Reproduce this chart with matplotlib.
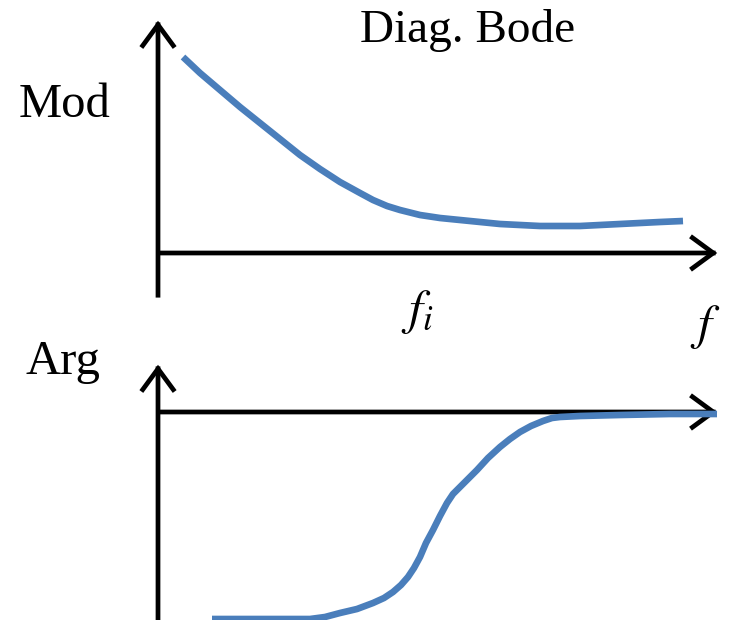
import matplotlib.pyplot as plt
from matplotlib.patches import FancyArrowPatch

# diagram drawn in picture units (x to the right, y downward)
mod_f = [183, 200, 220, 240, 260, 280, 300, 320, 340, 360, 373, 387, 400, 420,
         440, 460, 480, 500, 520, 540, 560, 580, 600, 620, 640, 660, 683]
mod_v = [57, 73, 90, 107, 123, 139, 155, 169, 182, 193, 200, 206, 210, 215,
         218, 220, 222, 224, 225, 226, 226, 226, 225, 224, 223, 222, 221]

arg_f = [212, 260, 310, 325, 340, 357, 373, 384, 393, 401, 408, 414, 420, 426,
         433, 440, 447, 453, 460, 468, 477, 488, 500, 510, 520, 531, 543, 552,
         560, 580, 620, 670, 717]
arg_v = [619, 619, 619, 617, 613, 609, 603, 598, 592, 585, 577, 568, 557, 543,
         530, 516, 503, 494, 487, 479, 470, 458, 447, 439, 432, 426, 421, 418,
         417, 416, 415, 414, 414]

title = "Diag. Bode"
mod_label = "Mod"
arg_label = "Arg"

plt.rcParams['font.family'] = ['Liberation Serif', 'DejaVu Serif']
plt.rcParams['mathtext.fontset'] = 'stix'

fig = plt.figure(figsize=(7.32, 6.2), dpi=100)
ax = fig.add_axes([0, 0, 1, 1])
ax.set_xlim(0, 732)
ax.set_ylim(620, 0)
ax.axis('off')

blue = '#4a7ebb'
ax.plot(mod_f, mod_v, color=blue, lw=4.8, solid_capstyle='butt', solid_joinstyle='round')
ax.plot(arg_f, arg_v, color=blue, lw=4.8, solid_capstyle='butt', solid_joinstyle='round')


def arrow(x0, y0, x1, y1):
    a = FancyArrowPatch((x0, y0), (x1, y1), arrowstyle='->,head_length=0.75,head_width=0.55',
                        mutation_scale=20, lw=3.4, color='black',
                        capstyle='projecting', joinstyle='miter')
    ax.add_patch(a)


# top panel axes
arrow(158, 298, 158, 18)
arrow(156, 253, 720, 253)
# bottom panel axes
arrow(158, 625, 158, 362)
arrow(156, 412, 720, 412)

ax.text(468, 30, title, fontsize=34, ha='center', va='center')
ax.text(65, 105, mod_label, fontsize=35, ha='center', va='center')
ax.text(63, 362, arg_label, fontsize=35, ha='center', va='center')
ax.text(417, 312, r'$f_i$', fontsize=36, ha='center', va='center')
ax.text(705, 327, r'$f$', fontsize=36, ha='center', va='center')

fig.savefig('out.png', dpi=100)
